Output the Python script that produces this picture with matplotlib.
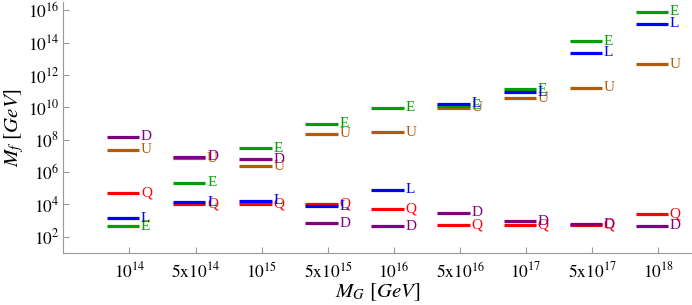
import matplotlib
matplotlib.use("Agg")
import matplotlib.pyplot as plt
import numpy as np

plt.rcParams['font.family'] = ['Liberation Serif', 'DejaVu Serif']
plt.rcParams['mathtext.fontset'] = 'stix'

categories = [r'$10^{14}$', r'$5\mathrm{x}10^{14}$', r'$10^{15}$', r'$5\mathrm{x}10^{15}$',
              r'$10^{16}$', r'$5\mathrm{x}10^{16}$', r'$10^{17}$', r'$5\mathrm{x}10^{17}$',
              r'$10^{18}$']

# log10 of M_f [GeV] per field, per M_G category
Q = [4.68, 4.04, 4.02, 4.00, 3.73, 2.72, 2.74, 2.70, 3.38]
U = [7.38, 6.86, 6.37, 8.37, 8.45, 9.97, 10.55, 11.21, 12.65]
E = [2.66, 5.34, 7.46, 8.97, 9.97, 10.08, 11.11, 14.08, 15.91]
D = [8.18, 6.94, 6.80, 2.83, 2.66, 3.48, 2.95, 2.78, 2.68]
L = [3.14, 4.13, 4.21, 3.88, 4.89, 10.22, 10.94, 13.37, 15.15]

series = [('Q', Q, '#ff0000'), ('U', U, '#b05c0a'), ('E', E, '#00a000'),
          ('D', D, '#800080'), ('L', L, '#0000ff')]

fig = plt.figure(figsize=(6.92, 3.05), dpi=100)
ax = fig.add_axes([0.0915, 0.1695, 0.9075, 0.8235])

pos = np.arange(1, len(categories) + 1)
for name, vals, col in series:
    v = 10.0 ** np.array(vals)
    ax.hlines(v, pos - 0.34, pos + 0.15, colors=col, lw=2.3)
    for p, y in zip(pos, v):
        ax.text(p + 0.175, y, name, color=col, fontsize=11, va='center', ha='left')

ax.set_yscale('log')
ax.set_ylim(10 ** 0.974, 10 ** 16.5)
ax.set_xlim(0, 9.5)
ax.set_yticks([10.0 ** k for k in range(2, 17, 2)])
ax.set_yticklabels([r'$10^{%d}$' % k for k in range(2, 17, 2)])
ax.yaxis.set_minor_locator(matplotlib.ticker.NullLocator())
ax.set_xticks(pos)
ax.set_xticklabels(categories)

for s in ['top', 'right']:
    ax.spines[s].set_visible(False)
for s in ['left', 'bottom']:
    ax.spines[s].set_color('#999999')
ax.tick_params(axis='both', direction='in', length=4, color='#999999',
               labelsize=12.5, labelcolor='black', pad=6)
ax.tick_params(axis='y', pad=3)

ax.set_xlabel(r'$M_G\ [GeV]$', fontsize=15, labelpad=0)
ax.set_ylabel(r'$M_f\ [GeV]$', fontsize=15, labelpad=1)

fig.savefig('out.png', dpi=100)
